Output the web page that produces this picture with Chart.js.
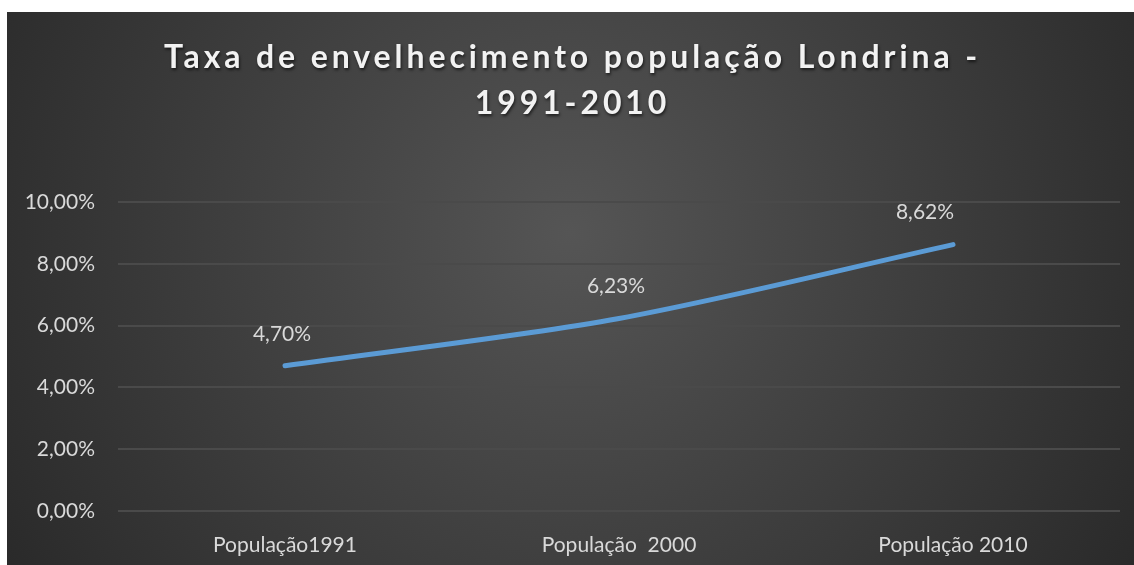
<!DOCTYPE html>
<html><head><meta charset="utf-8">
<script src="https://cdn.jsdelivr.net/npm/chart.js@4/dist/chart.umd.min.js"></script>
<style>
html,body{margin:0;padding:0;background:#fff;width:1134px;height:565px;overflow:hidden}
#wrap{position:absolute;left:7px;top:12px;width:1127px;height:553px}
</style></head><body>
<div id="wrap"><canvas id="c" width="1127" height="553"></canvas></div>
<script>
const titleLines = ['Taxa de envelhecimento população Londrina -', '1991-2010'];
const categories = ['População1991', 'População  2000', 'População 2010'];
const values = [4.70, 6.23, 8.62];
const yTicks = [0, 2, 4, 6, 8, 10];

const fmt = v => v.toFixed(2).replace('.', ',') + '%';
const FONT = 'Lato, "Open Sans", sans-serif';

const bgPlugin = {
  id: 'bg',
  beforeDraw(chart) {
    const ctx = chart.ctx, w = chart.width, h = chart.height;
    const g = ctx.createRadialGradient(w*0.5, h*0.4, 0, w*0.5, h*0.4, w*0.62);
    g.addColorStop(0, '#555555');
    g.addColorStop(1, '#272727');
    ctx.save(); ctx.fillStyle = g; ctx.fillRect(0, 0, w, h); ctx.restore();
  }
};
const titlePlugin = {
  id: 'ttl',
  afterDraw(chart) {
    const ctx = chart.ctx;
    ctx.save();
    ctx.font = 'bold 32px ' + FONT;
    ctx.letterSpacing = '3.9px';
    ctx.textAlign = 'center'; ctx.textBaseline = 'alphabetic';
    ctx.shadowColor = 'rgba(0,0,0,0.6)'; ctx.shadowBlur = 3; ctx.shadowOffsetX = 1; ctx.shadowOffsetY = 2;
    ctx.fillStyle = '#f2f2f2';
    titleLines.forEach((t, i) => ctx.fillText(t, chart.width/2 + 2, 56 + i*46));
    ctx.restore();
  }
};
const labelPlugin = {
  id: 'lbl',
  afterDatasetsDraw(chart) {
    const ctx = chart.ctx, meta = chart.getDatasetMeta(0);
    ctx.save();
    ctx.font = '21px ' + FONT;
    ctx.fillStyle = '#d9d9d9';
    ctx.textAlign = 'center'; ctx.textBaseline = 'middle';
    meta.data.forEach((p, i) => {
      const last = i === meta.data.length - 1;
      ctx.fillText(fmt(values[i]), p.x - (last ? 28 : 3), p.y - 32);
    });
    ctx.restore();
  }
};

new Chart(document.getElementById('c'), {
  type: 'line',
  data: { labels: categories, datasets: [{
    data: values, borderColor: '#5b9bd5', borderWidth: 5, tension: 0.3,
    pointRadius: 0, borderCapStyle: 'round', fill: false
  }]},
  options: {
    responsive: false, animation: false,
    layout: { padding: { top: 190, right: 14, left: 0, bottom: 0 } },
    plugins: { legend: { display: false }, title: { display: false }, tooltip: { enabled: false } },
    scales: {
      x: {
        offset: true,
        grid: { display: false, drawTicks: false },
        border: { display: false },
        ticks: { color: '#d9d9d9', font: { family: FONT, size: 21 }, padding: 22 },
        afterFit(s) { s.height = 54; }
      },
      y: {
        min: 0, max: 10,
        afterBuildTicks(s) { s.ticks = yTicks.map(v => ({ value: v })); },
        grid: { color: '#4a4a4a', lineWidth: 2, drawTicks: false },
        border: { display: false },
        ticks: { color: '#d9d9d9', font: { family: FONT, size: 21 }, padding: 23, callback: v => fmt(v) },
        afterFit(s) { s.width = 111; }
      }
    }
  },
  plugins: [bgPlugin, titlePlugin, labelPlugin]
});
</script>
</body></html>
